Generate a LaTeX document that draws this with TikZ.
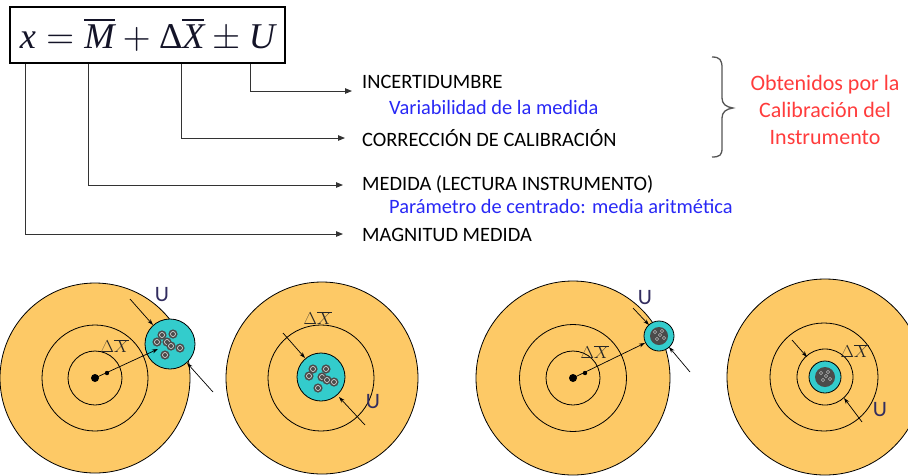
\documentclass[tikz,border=0pt]{standalone}
\usepackage{fontspec}
\setmainfont{Carlito}
\newfontfamily\tnr{Liberation Serif}
\usepackage{graphicx}
\usetikzlibrary{arrows.meta}
\definecolor{orng}{RGB}{253,201,102}
\definecolor{cyn}{RGB}{51,204,204}
\definecolor{bluetxt}{RGB}{40,40,245}
\definecolor{redtxt}{RGB}{255,60,60}
\definecolor{lbl}{RGB}{50,45,95}
\definecolor{shot}{RGB}{75,75,75}
\definecolor{bracec}{RGB}{85,85,85}
\definecolor{eqc}{RGB}{20,20,40}
\newcommand{\tv}[1]{\mbox{\tnr\itshape #1}}
\begin{document}
\begin{tikzpicture}[x=1pt,y=-1pt,
  lead/.style={draw=black!80, line width=1pt, -{Triangle[length=7pt,width=5.5pt]}},
  dim/.style={draw=black, line width=0.7pt, -{Stealth[length=6pt,width=4pt]}},
  caps/.style={inner sep=0pt, anchor=west, font=\fontsize{20.4}{22}\selectfont},
  bluet/.style={inner sep=0pt, anchor=west, text=bluetxt, font=\fontsize{20.4}{22}\selectfont},
  target/.style={fill=orng, draw=black, line width=0.8pt},
  ring/.style={draw=black, line width=0.8pt},
  group/.style={fill=cyn, draw=black, line width=0.8pt},
  dxl/.style={inner sep=0pt, text=black!85, font=\fontsize{17}{18}\selectfont},
  ul/.style={inner sep=0pt, text=lbl, font=\fontsize{22}{24}\selectfont}]
\useasboundingbox (0,0) rectangle (908,475);

% ---------- formula ----------
\node[draw, line width=1.3pt, minimum width=275pt, minimum height=56pt, inner sep=0pt, text=eqc] (eq) at (147.5,35)
  {\resizebox{255pt}{!}{$\tv{x} = \overline{\tv{M}} + \mbox{\tnr Δ}\overline{\tv{X}} \pm \tv{U}$}};

% ---------- texts ----------
\node[caps] (incert) at (362,82) {INCERTIDUMBRE};
\node[bluet] (var) at (389,107) {Variabilidad de la medida};
\node[caps] (corr) at (362,138) {CORRECCIÓN DE CALIBRACIÓN};
\node[caps] (med) at (362,184) {MEDIDA (LECTURA INSTRUMENTO)};
\node[bluet] (param) at (389,206) {Parámetro de centrado: media aritmética};
\node[caps] (mag) at (362,235) {MAGNITUD MEDIDA};
\node[text=redtxt, align=center, inner sep=0pt, font=\fontsize{22}{27}\selectfont] (obt) at (825,110)
  {Obtenidos por la\\Calibración del\\Instrumento};

% ---------- connectors ----------
\coordinate (pU) at ([xshift=241pt]eq.south west);
\coordinate (pX) at ([xshift=172pt]eq.south west);
\coordinate (pM) at ([xshift=79pt]eq.south west);
\coordinate (px) at ([xshift=16pt]eq.south west);
\coordinate (aU) at ([shift={(-10,9)}]incert.west);
\coordinate (aX) at ([shift={(-17,0)}]corr.west);
\coordinate (aM) at ([shift={(-19,1)}]med.west);
\coordinate (ax) at ([shift={(-19,-1)}]mag.west);
\draw[lead] (pU) |- (aU);
\draw[lead] (pX) |- (aX);
\draw[lead] (pM) |- (aM);
\draw[lead] (px) |- (ax);

% ---------- brace ----------
\draw[bracec, line width=1.3pt] (712,57) .. controls (720,57) and (722,60) .. (722,68) -- (722,98)
  .. controls (722,104) and (726,107) .. (733,108) .. controls (726,109) and (722,112) .. (722,118)
  -- (722,148) .. controls (722,155) and (720,157) .. (712,157);

% ---------- targets ----------
\begin{scope}
\clip (0,0) rectangle (908,475);
% target 1
\draw[target] (95,378) circle (95);
\draw[ring] (95,378) circle (53);
\draw[ring] (95,378) circle (27);
\draw[group] (170,344) circle (25);
\foreach \p in {(162,335),(173,334),(167,342),(157,342),(171,346),(180,348),(165,355)}
  {\fill[shot] \p circle (4.6); \draw[white!80!gray, line width=0.6pt] \p circle (2.5); \fill[shot] \p circle (1);}
\fill (95,378) circle (4);
\fill (107,373) circle (2.2);
\draw[dim] (95,378) -- (158,349);
\node[dxl] (d1) at (115,346) {$\Delta\overline{X}$};
\draw[dim] (130,299) -- (153,325);
\draw[dim] (213,392) -- (187,363);
\node[ul] (u1) at (162,295) {U};

% target 2
\draw[target] (322,378) circle (96);
\draw[ring] (321,378) circle (53);
\draw[group] (321,377) circle (24);
\foreach \p in {(313,369),(326,369),(309,376),(322,377),(327,380),(334,382),(318,388)}
  {\fill[shot] \p circle (4.6); \draw[white!80!gray, line width=0.6pt] \p circle (2.5); \fill[shot] \p circle (1);}
\draw[dim] (283,333) -- (305,358);
\draw[dim] (365,425) -- (339,397);
\node[dxl] (d2) at (318,318) {$\Delta\overline{X}$};
\node[ul] (u2) at (373,402) {U};

% target 3
\draw[target] (573,378) circle (97);
\draw[ring] (573,378) circle (53.5);
\draw[ring] (573,378) circle (27);
\draw[group] (659,336) circle (15);
\fill[shot] (659,336) circle (9);
\foreach \p in {(655,332),(662,331),(657,339),(664,338),(660,335)}
  {\draw[white!70!gray, line width=0.4pt] \p circle (1.6);}
\fill (573,378) circle (4);
\fill (585,373) circle (2.2);
\draw[dim] (573,378) -- (645,343);
\node[dxl] (d3) at (595,352) {$\Delta\overline{X}$};
\draw[dim] (633,308) -- (649,325);
\draw[dim] (690,372) -- (669,347);
\node[ul] (u3) at (645,298) {U};

% target 4
\draw[target] (825,377) circle (98);
\draw[ring] (824,377) circle (54);
\draw[ring] (825,377) circle (28);
\draw[group] (825,377) circle (16);
\fill[shot] (825,377) circle (10);
\foreach \p in {(821,373),(828,372),(823,380),(830,379),(826,376)}
  {\draw[white!70!gray, line width=0.4pt] \p circle (1.6);}
\draw[dim] (792,340) -- (807,357);
\draw[dim] (862,422) -- (844,398);
\node[dxl] (d4) at (855,351) {$\Delta\overline{X}$};
\node[ul] (u4) at (880,410) {U};
\end{scope}
\end{tikzpicture}
\end{document}
